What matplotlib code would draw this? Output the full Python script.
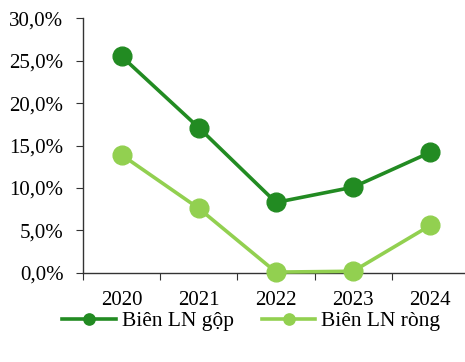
import matplotlib.pyplot as plt
import matplotlib.ticker as mticker
import numpy as np

years = ['2020', '2021', '2022', '2023', '2024']
bien_gop = [25.5, 17.1, 8.3, 10.1, 14.2]
bien_rong = [13.9, 7.6, 0.1, 0.2, 5.6]

plt.rcParams['font.family'] = ['Liberation Serif', 'DejaVu Serif']
plt.rcParams['font.size'] = 15

fig = plt.figure(figsize=(4.65, 3.62), dpi=100)
ax = fig.add_axes([0.1785, 0.246, 0.83, 0.704])

x = np.arange(len(years))
ax.plot(x, bien_gop, color='#228B22', lw=2.6, marker='o', ms=13.5, label='Biên LN gộp', clip_on=False, zorder=3)
ax.plot(x, bien_rong, color='#92D050', lw=2.6, marker='o', ms=13.5, label='Biên LN ròng', clip_on=False, zorder=3)

ax.set_ylim(0, 30)
ax.set_xlim(-0.5, 4.5)
ax.yaxis.set_major_locator(mticker.MultipleLocator(5))
ax.yaxis.set_major_formatter(mticker.FuncFormatter(lambda v, p: f'{v:.1f}%'.replace('.', ',')))

ax.set_xticks(np.arange(-0.5, 5.0, 1.0))
ax.set_xticklabels([])
ax.set_xticks(x, minor=True)
ax.set_xticklabels(years, minor=True)
ax.tick_params(axis='x', which='minor', length=0, pad=13)
ax.tick_params(axis='x', which='major', length=5, direction='out', color='#333333')
ax.tick_params(axis='y', length=5, direction='out', color='#333333', pad=9)

for s in ['top', 'right']:
    ax.spines[s].set_visible(False)
for s in ['left', 'bottom']:
    ax.spines[s].set_color('#333333')
    ax.spines[s].set_linewidth(1.0)

fig.legend(loc='center', bbox_to_anchor=(0.54, 0.113), ncol=2, frameon=False,
           handlelength=2.5, columnspacing=1.3, handletextpad=0.25, markerscale=0.6,
           fontsize=15.5)

fig.savefig('out.png', dpi=100)
